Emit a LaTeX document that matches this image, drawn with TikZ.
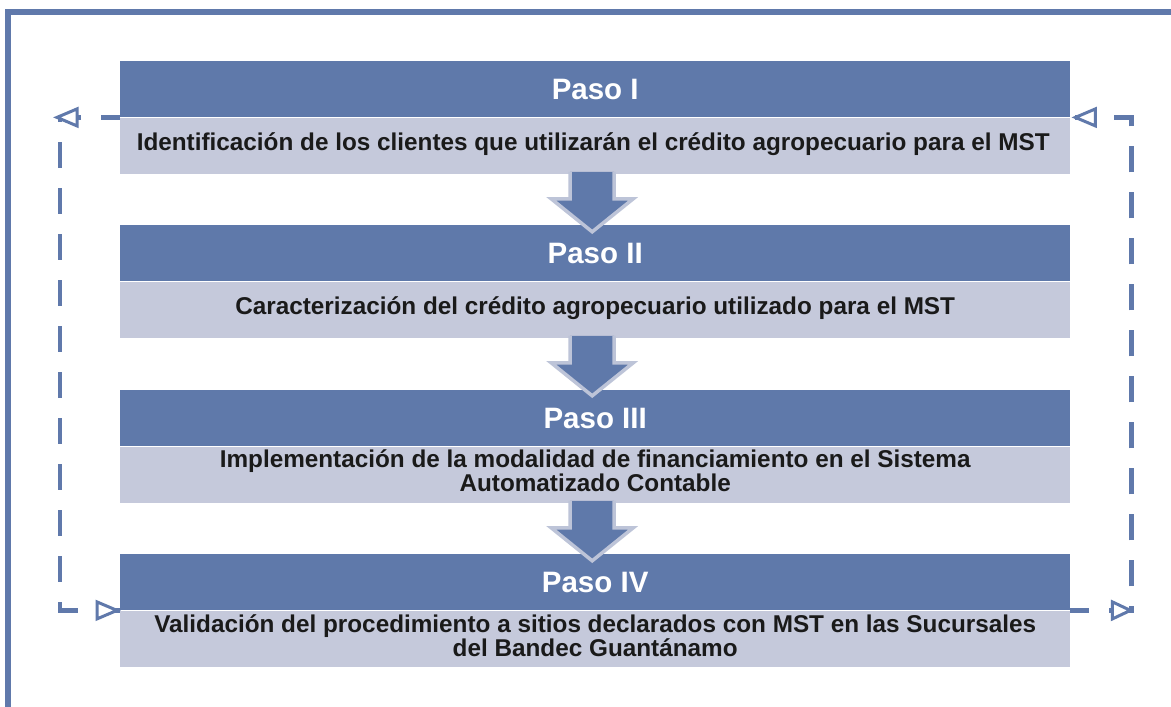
\documentclass[tikz,border=0pt]{standalone}
\usepackage{fontspec}
\setmainfont{Liberation Sans}
\usetikzlibrary{calc}
\definecolor{hblue}{HTML}{5F79AA}
\definecolor{bgray}{HTML}{C5C9DB}
\definecolor{agray}{HTML}{BDC4D8}
\definecolor{lblue}{HTML}{6079AB}
\definecolor{txt}{HTML}{1A1A1A}
\begin{document}
\begin{tikzpicture}[x=1pt,y=-1pt,
 hdr/.style={fill=hblue,minimum width=950pt,minimum height=56pt,inner sep=0pt,anchor=north west,text=white,font=\bfseries\fontsize{29.5}{33}\selectfont},
 bdy/.style={fill=bgray,minimum width=950pt,minimum height=56pt,inner sep=0pt,anchor=north},
 btext/.style={inner sep=0pt,font=\bfseries\fontsize{24.3}{24.5}\selectfont,align=center,text=txt},
 blockarrow/.style={fill=hblue,draw=agray,line width=3.5pt,line join=miter},
 dashline/.style={draw=lblue,line width=4.5pt,dash pattern=on 26pt off 20pt,dash phase=7pt},
 openhead/.style={draw=lblue,fill=white,line width=3pt,line join=miter}]
\useasboundingbox (0,0) rectangle (1171,707);
\fill[white] (0,0) rectangle (1171,707);
\draw[lblue,line width=5.5pt] (8,707) -- (8,12) -- (1171,12);
% boxes
\node[hdr] (h1) at (120,61) {Paso I};
\node[bdy] (b1) at (h1.south) {};
\node[btext] (t1) at ($(b1.center)+(-2,-1)$) {Identificación de los clientes que utilizarán el crédito agropecuario para el MST};
\node[hdr] (h2) at (120,225) {Paso II};
\node[bdy] (b2) at (h2.south) {};
\node[btext] (t2) at ($(b2.center)+(0,-1)$) {Caracterización del crédito agropecuario utilizado para el MST};
\node[hdr] (h3) at (120,390) {Paso III};
\node[bdy] (b3) at (h3.south) {};
\node[btext] (t3) at ($(b3.center)+(0,-4)$) {Implementación de la modalidad de financiamiento en el Sistema\\Automatizado Contable};
\node[hdr] (h4) at (120,554) {Paso IV};
\node[bdy] (b4) at (h4.south) {};
\node[btext] (t4) at ($(b4.center)+(0,-3)$) {Validación del procedimiento a sitios declarados con MST en las Sucursales\\del Bandec Guantánamo};
% block arrows
\foreach \a in {b1,b2,b3}{
 \draw[blockarrow] ($(\a.south)+(-25,-2)$) -- ($(\a.south)+(-25,25)$) -- ($(\a.south)+(-44,25)$) -- ($(\a.south)+(-3,58)$) -- ($(\a.south)+(38,25)$) -- ($(\a.south)+(19,25)$) -- ($(\a.south)+(19,-2)$);
}
% feedback connectors
\draw[dashline] (h1.south west) -- ++(-60,0) |- (h4.south west);
\draw[dashline] (h4.south east) -- ++(61,0) |- ($(h1.south east)+(5,0)$);
% open arrowheads
\draw[openhead] ($(h1.south west)+(-63,0)$) -- ++(20,-8.5) -- ++(0,17) -- cycle;
\draw[openhead] ($(h1.south east)+(5,0)$) -- ++(20,-8.5) -- ++(0,17) -- cycle;
\draw[openhead] ($(h4.south west)+(-3,0)$) -- ++(-20,-8.5) -- ++(0,17) -- cycle;
\draw[openhead] ($(h4.south east)+(60,0)$) -- ++(-18,-8.5) -- ++(0,17) -- cycle;
\end{tikzpicture}
\end{document}
